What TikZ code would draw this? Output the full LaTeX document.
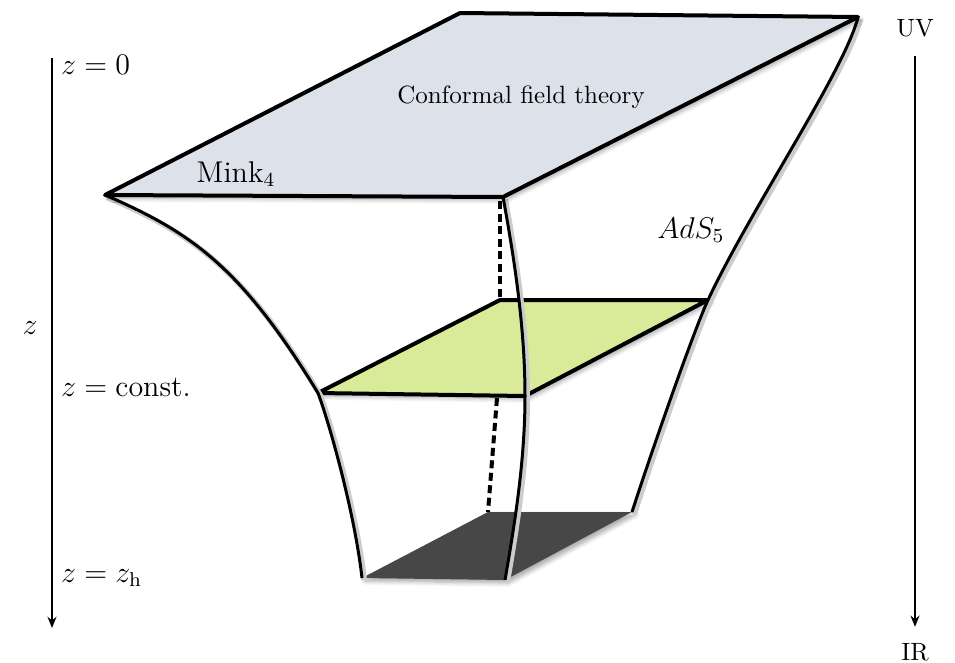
\documentclass[tikz,border=0pt]{standalone}
\usepackage{amsmath}
\usepackage{tikz}
\usetikzlibrary{arrows.meta,positioning,shadows.blur}
\definecolor{bdyfill}{HTML}{DCE1EA}
\definecolor{slicefill}{HTML}{D9EA98}
\definecolor{horfill}{HTML}{474747}
\tikzset{
  plane/.style={
    line width=1.6pt,
    line join=round,
    blur shadow={shadow xshift=1.2pt, shadow yshift=-1.2pt, shadow blur steps=6, shadow opacity=35}
  },
  bulk/.style={
    line width=1.2pt,
    preaction={draw=black!20, line width=2.2pt, transform canvas={shift={(0.9pt,-0.9pt)}}}
  },
  hidden/.style={line width=1.6pt, dash pattern=on 3.2pt off 1.8pt},
  axis/.style={-{Stealth[length=4.5pt,width=3.6pt]}, line width=0.8pt},
  lbl/.style={font=\large, inner sep=1pt}
}
\begin{document}
\begin{tikzpicture}[x=0.4pt,y=-0.4pt]
  \useasboundingbox (0,0) rectangle (955,662);

  \coordinate (mink-l) at (105,195);
  \coordinate (mink-b) at (460,13);
  \coordinate (mink-r) at (858,17);
  \coordinate (mink-f) at (503,197);

  \coordinate (slice-l) at (318,393);
  \coordinate (slice-b) at (500,300);
  \coordinate (slice-r) at (708,300);
  \coordinate (slice-f) at (525,396);

  \coordinate (hor-l) at (362,578);
  \coordinate (hor-b) at (488,512);
  \coordinate (hor-r) at (632,512);
  \coordinate (hor-f) at (505,580);

  \coordinate (back-top) at (500,201);
  \coordinate (back-mid) at (497,398);

  \fill[horfill, blur shadow={shadow xshift=1.2pt, shadow yshift=-1.2pt, shadow blur steps=6, shadow opacity=35}]
    (hor-l) -- (hor-b) -- (hor-r) -- (hor-f) -- cycle;

  \draw[hidden] (back-top) -- (slice-b);
  \draw[hidden] (back-mid) -- (hor-b);

  \draw[plane, fill=slicefill] (slice-l) -- (slice-b) -- (slice-r) -- (slice-f) -- cycle;

  \draw[bulk] (mink-l) .. controls (190,232) and (240,265) .. (slice-l)
    .. controls (330,425) and (355,515) .. (hor-l);
  \draw[bulk] (mink-f) .. controls (515,262) and (525,330) .. (slice-f)
    .. controls (525,460) and (515,522) .. (hor-f);
  \draw[bulk] (mink-r) .. controls (845,70) and (750,210) .. (slice-r)
    .. controls (694,330) and (652,450) .. (hor-r);

  \draw[plane, fill=bdyfill] (mink-l) -- (mink-b) -- (mink-r) -- (mink-f) -- cycle;

  \node (cft) at (521,97) {Conformal field theory};
  \node[lbl] (mink) at (236,174) {$\text{Mink}_4$};
  \node[lbl] (ads) at (691,230) {$AdS_5$};

  \coordinate (z-top) at (52,58);
  \coordinate (z-bot) at (52,628);
  \draw[axis] (z-top) -- (z-bot);
  \node[lbl, anchor=west] (z0) at (58,65) {$z=0$};
  \node[lbl] (z) at (30,328) {$z$};
  \node[lbl, anchor=west] (zc) at (58,387) {$z=\text{const.}$};
  \node[lbl, anchor=west] (zh) at (58,578) {$z=z_{\mathrm{h}}$};

  \node (uv) at (915,28) {UV};
  \node (ir) at (915,652) {IR};
  \draw[axis, shorten <=4pt, shorten >=3pt] (uv) -- (ir);
\end{tikzpicture}
\end{document}
